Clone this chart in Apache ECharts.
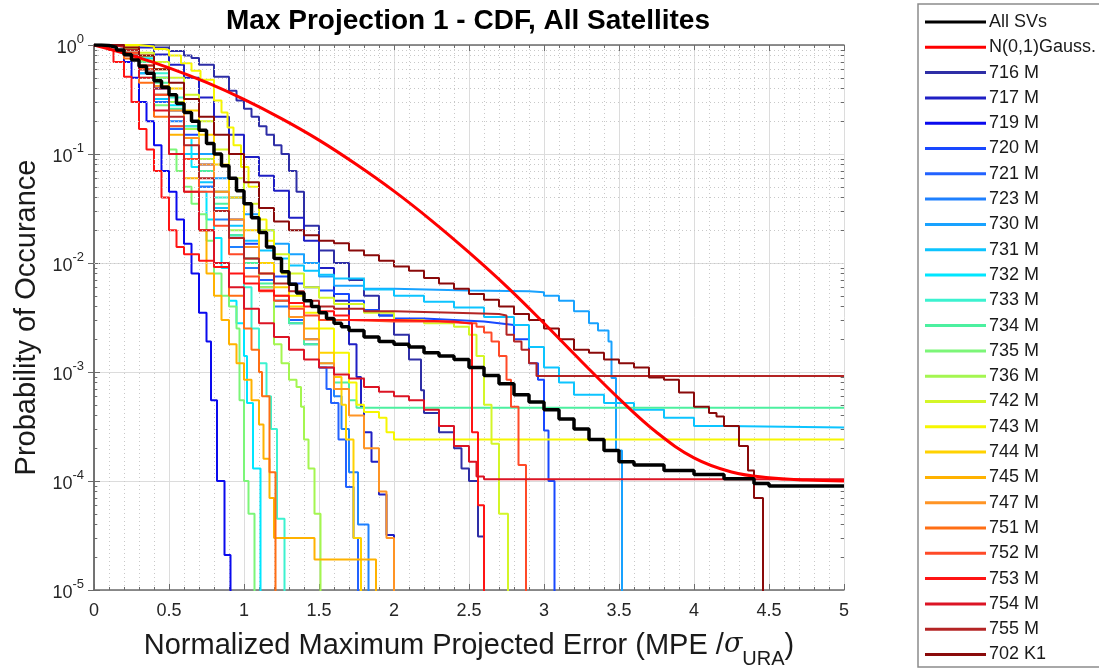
<!DOCTYPE html>
<html><head><meta charset="utf-8">
<script src="https://cdn.jsdelivr.net/npm/echarts@6/dist/echarts.min.js"></script>
<style>html,body{margin:0;padding:0;background:#fff}#c{width:1099px;height:670px}</style>
</head><body><div id="c"></div>
<script>
// ---------- DATA (x = normalized MPE, y = probability) ----------
const allSVs = [[0,1],[0.05,0.99],[0.1,0.95],[0.15,0.9],[0.2,0.82],[0.25,0.73],[0.3,0.64],[0.35,0.55],[0.4,0.47],[0.45,0.41],[0.5,0.35],[0.55,0.29],[0.6,0.24],[0.65,0.2],[0.7,0.165],[0.75,0.125],[0.8,0.1],[0.85,0.078],[0.9,0.06],[0.95,0.046],[1.0,0.035],[1.05,0.026],[1.1,0.019],[1.15,0.014],[1.2,0.011],[1.25,0.0083],[1.3,0.0064],[1.35,0.0053],[1.4,0.0045],[1.45,0.004],[1.5,0.0035],[1.55,0.0031],[1.6,0.0028],[1.65,0.0026],[1.7,0.0024],[1.8,0.0021],[1.9,0.0019],[2.0,0.0018],[2.1,0.0017],[2.2,0.0015],[2.3,0.0014],[2.4,0.0013],[2.5,0.0011],[2.6,0.00093],[2.7,0.00078],[2.8,0.00062],[2.9,0.00053],[3.0,0.00045],[3.1,0.00037],[3.2,0.0003],[3.3,0.00024],[3.4,0.00019],[3.5,0.00015],[3.6,0.00014],[3.8,0.000125],[4.0,0.000115],[4.2,0.000105],[4.4,0.000095],[4.5,0.00009],[5.0,0.00009]];
const gauss = [[0,1],[0.25,0.803],[0.5,0.617],[0.75,0.453],[1.0,0.317],[1.25,0.211],[1.5,0.134],[1.75,0.080],[2.0,0.0456],[2.25,0.0245],[2.5,0.0125],[2.75,0.0061],[3.0,0.0028],[3.25,0.00125],[3.5,0.00057],[3.75,0.00028],[4.0,0.000163],[4.25,0.000121],[4.5,0.000107],[4.75,0.000102],[5.0,0.0001]];
const sv716 = [[0,1],[0.3,1],[0.4,0.95],[0.5,0.88],[0.6,0.8],[0.65,0.76],[0.7,0.66],[0.8,0.51],[0.9,0.38],[0.95,0.31],[1.0,0.26],[1.05,0.22],[1.1,0.18],[1.15,0.15],[1.2,0.12],[1.25,0.1],[1.3,0.07],[1.35,0.045],[1.4,0.022],[1.5,0.013],[1.6,0.01],[1.7,0.007],[1.8,0.005],[1.9,0.0033],[2.0,0.0022],[2.1,0.0013],[2.18,0.00068],[2.2,0.00042],[2.3,0.00028],[2.4,0.0002],[2.45,0.00013],[2.5,0.0001],[2.56,0.000031],[2.6,0]];
const sv717 = [[0,1],[0.2,1],[0.3,0.95],[0.4,0.82],[0.5,0.66],[0.6,0.5],[0.7,0.33],[0.8,0.22],[0.9,0.15],[1.0,0.094],[1.1,0.063],[1.2,0.046],[1.3,0.026],[1.4,0.016],[1.5,0.009],[1.6,0.0045],[1.7,0.0018],[1.75,0.0009],[1.78,0.00048],[1.8,0.00028],[1.85,0.00015],[1.9,0.000075],[1.95,0.000032],[2.0,0]];
const sv719 = [[0,1],[0.1,0.97],[0.2,0.7],[0.25,0.5],[0.3,0.3],[0.35,0.2],[0.4,0.12],[0.45,0.07],[0.5,0.045],[0.55,0.025],[0.6,0.015],[0.65,0.008],[0.7,0.0035],[0.75,0.0019],[0.78,0.00055],[0.82,0.0001],[0.87,0.000021],[0.91,0]];
const sv720 = [[0,1],[0.1,0.98],[0.2,0.85],[0.3,0.6],[0.4,0.4],[0.5,0.25],[0.6,0.15],[0.7,0.08],[0.8,0.045],[0.9,0.025],[1.0,0.015],[1.1,0.01],[1.2,0.0075],[1.3,0.0065],[1.4,0.006],[1.5,0.0056],[1.6,0.0052],[1.7,0.0045],[1.8,0.0037],[1.9,0.0033],[2.0,0.0031],[2.2,0.003],[2.4,0.0029],[2.6,0.0028],[2.7,0.0027],[2.8,0.002],[2.9,0.0012],[2.96,0.00085],[3.0,0.00029],[3.03,0.0001],[3.07,0]];
const sv721 = [[0,1],[0.1,0.98],[0.2,0.8],[0.3,0.55],[0.4,0.3],[0.5,0.17],[0.6,0.09],[0.7,0.05],[0.8,0.03],[0.9,0.018],[1.0,0.011],[1.1,0.007],[1.2,0.0045],[1.3,0.003],[1.4,0.002],[1.5,0.0011],[1.55,0.0007],[1.58,0.00052],[1.63,0.00024],[1.68,0.000088],[1.73,0.00003],[1.76,0]];
const sv723 = [[0,1],[0.1,0.99],[0.2,0.85],[0.3,0.6],[0.4,0.35],[0.5,0.2],[0.6,0.1],[0.7,0.05],[0.8,0.025],[0.9,0.014],[1.0,0.009],[1.1,0.006],[1.2,0.004],[1.3,0.0028],[1.4,0.0018],[1.5,0.0011],[1.6,0.0006],[1.65,0.0003],[1.7,0.00012],[1.76,0.00004],[1.83,0]];
const sv730 = [[0,1],[0.1,0.99],[0.2,0.9],[0.3,0.7],[0.4,0.5],[0.5,0.3],[0.6,0.18],[0.7,0.1],[0.8,0.06],[0.9,0.04],[1.0,0.028],[1.1,0.02],[1.2,0.015],[1.3,0.012],[1.4,0.01],[1.5,0.0075],[1.6,0.0062],[1.8,0.0058],[2.0,0.0056],[2.5,0.0055],[2.9,0.0054],[3.0,0.005],[3.1,0.0045],[3.2,0.0036],[3.3,0.0028],[3.36,0.0024],[3.43,0.0019],[3.45,0.00088],[3.48,0.00019],[3.52,0]];
const sv731 = [[0,1],[0.1,0.97],[0.2,0.8],[0.3,0.55],[0.4,0.32],[0.5,0.18],[0.6,0.1],[0.7,0.055],[0.8,0.032],[0.9,0.022],[1.0,0.016],[1.1,0.013],[1.2,0.011],[1.3,0.0095],[1.4,0.0085],[1.5,0.0078],[1.6,0.0072],[1.8,0.0057],[2.0,0.005],[2.2,0.0044],[2.4,0.0039],[2.6,0.0032],[2.8,0.0027],[2.9,0.0017],[3.0,0.0011],[3.1,0.0008],[3.2,0.00062],[3.4,0.00052],[3.6,0.00045],[3.8,0.00038],[4.0,0.00032],[4.2,0.00031],[5.0,0.00031]];
const sv732 = [[0,1],[0.1,1],[0.2,0.9],[0.3,0.75],[0.4,0.5],[0.5,0.28],[0.6,0.14],[0.65,0.076],[0.7,0.045],[0.75,0.025],[0.8,0.017],[0.85,0.009],[0.9,0.0045],[0.95,0.0028],[1.0,0.0014],[1.02,0.00052],[1.06,0.00013],[1.11,0]];
const sv733 = [[0,1],[0.1,1],[0.2,0.92],[0.3,0.78],[0.4,0.55],[0.5,0.33],[0.6,0.18],[0.7,0.09],[0.8,0.04],[0.9,0.018],[1.0,0.006],[1.05,0.0025],[1.1,0.0012],[1.15,0.0006],[1.18,0.0003],[1.22,0.000045],[1.27,0]];
const sv734 = [[0,1],[0.1,0.99],[0.2,0.9],[0.3,0.7],[0.4,0.45],[0.5,0.26],[0.6,0.14],[0.7,0.07],[0.8,0.035],[0.9,0.018],[1.0,0.01],[1.1,0.0065],[1.2,0.0045],[1.3,0.0028],[1.4,0.0018],[1.5,0.0012],[1.6,0.0008],[1.7,0.00055],[1.75,0.00047],[5.0,0.00047]];
const sv735 = [[0,1],[0.1,0.98],[0.2,0.8],[0.3,0.5],[0.4,0.28],[0.5,0.11],[0.55,0.07],[0.6,0.05],[0.65,0.035],[0.7,0.028],[0.75,0.016],[0.8,0.008],[0.85,0.005],[0.9,0.004],[0.95,0.0025],[0.97,0.00055],[1.0,0.0001],[1.03,0.00005],[1.07,0]];
const sv736 = [[0,1],[0.1,1],[0.2,0.9],[0.3,0.72],[0.4,0.5],[0.5,0.3],[0.6,0.17],[0.7,0.09],[0.8,0.045],[0.9,0.02],[1.0,0.011],[1.1,0.006],[1.2,0.0018],[1.25,0.0012],[1.3,0.00085],[1.35,0.00073],[1.38,0.00048],[1.4,0.00024],[1.43,0.00013],[1.47,0.00005],[1.51,0]];
const sv742 = [[0,1],[0.1,1],[0.2,0.95],[0.3,0.85],[0.4,0.7],[0.5,0.5],[0.6,0.35],[0.7,0.2],[0.8,0.11],[0.9,0.06],[1.0,0.035],[1.1,0.02],[1.2,0.012],[1.3,0.008],[1.4,0.006],[1.5,0.0048],[1.6,0.0042],[1.8,0.0035],[2.0,0.003],[2.2,0.0028],[2.4,0.0026],[2.5,0.0022],[2.55,0.0014],[2.6,0.0005],[2.65,0.00022],[2.7,0.00005],[2.76,0]];
const sv743 = [[0,1],[0.2,1],[0.3,0.97],[0.4,0.92],[0.47,0.9],[0.5,0.8],[0.58,0.68],[0.65,0.58],[0.71,0.48],[0.8,0.31],[0.85,0.24],[0.89,0.175],[0.93,0.12],[0.98,0.076],[1.03,0.05],[1.1,0.025],[1.15,0.016],[1.2,0.011],[1.25,0.008],[1.3,0.005],[1.4,0.0035],[1.5,0.0025],[1.6,0.0015],[1.7,0.0008],[1.75,0.0005],[1.8,0.00043],[1.9,0.00038],[1.95,0.00028],[2.0,0.00024],[5.0,0.00024]];
const sv744 = [[0,1],[0.1,1],[0.2,0.95],[0.3,0.8],[0.4,0.6],[0.5,0.4],[0.6,0.25],[0.7,0.15],[0.8,0.08],[0.9,0.04],[1.0,0.02],[1.1,0.01],[1.2,0.006],[1.3,0.004],[1.4,0.0025],[1.5,0.0015],[1.6,0.0009],[1.65,0.0005],[1.68,0.00024],[1.73,0.00003],[1.78,0]];
const sv745 = [[0,1],[0.1,0.99],[0.2,0.85],[0.3,0.6],[0.4,0.35],[0.5,0.15],[0.6,0.06],[0.7,0.02],[0.75,0.008],[0.8,0.005],[0.85,0.003],[0.9,0.0018],[0.95,0.0012],[1.0,0.00085],[1.05,0.00055],[1.1,0.00033],[1.13,0.00016],[1.17,0.00007],[1.2,0.00003],[1.47,0.000019],[1.88,0]];
const sv747 = [[0,1],[0.1,0.98],[0.2,0.85],[0.3,0.65],[0.4,0.42],[0.5,0.25],[0.6,0.14],[0.7,0.08],[0.8,0.045],[0.9,0.025],[1.0,0.014],[1.1,0.008],[1.2,0.005],[1.3,0.0032],[1.4,0.002],[1.5,0.0012],[1.6,0.0007],[1.7,0.0004],[1.8,0.0002],[1.9,0.00008],[1.95,0.00003],[2.0,0]];
const sv751 = [[0,1],[0.1,0.97],[0.2,0.75],[0.3,0.45],[0.4,0.22],[0.5,0.1],[0.6,0.045],[0.7,0.02],[0.8,0.01],[0.9,0.005],[1.0,0.0025],[1.05,0.0016],[1.1,0.001],[1.12,0.0006],[1.17,0.00012],[1.21,0]];
const sv752 = [[0,1],[0.1,0.98],[0.2,0.85],[0.3,0.6],[0.4,0.35],[0.5,0.18],[0.6,0.09],[0.7,0.045],[0.8,0.022],[0.9,0.012],[1.0,0.0075],[1.1,0.0055],[1.2,0.0045],[1.3,0.0038],[1.4,0.0033],[1.5,0.003],[1.7,0.0029],[2.0,0.0029],[2.3,0.0028],[2.5,0.0028],[2.55,0.0026],[2.6,0.0023],[2.65,0.0019],[2.7,0.0014],[2.75,0.00085],[2.78,0.00048],[2.83,0.00014],[2.88,0]];
const sv753 = [[0,1],[0.1,0.9],[0.13,0.7],[0.2,0.51],[0.25,0.3],[0.3,0.17],[0.35,0.11],[0.4,0.07],[0.45,0.04],[0.5,0.02],[0.55,0.014],[0.6,0.012],[0.7,0.0105],[0.8,0.0092],[0.9,0.008],[1.0,0.0065],[1.1,0.0056],[1.2,0.005],[1.3,0.0043],[1.4,0.004],[1.5,0.0036],[1.6,0.0033],[1.7,0.003],[2.0,0.0029],[2.4,0.0028],[2.5,0.0028],[2.52,0.00028],[2.56,0.00006],[2.6,0]];
const sv754 = [[0,1],[0.1,0.97],[0.2,0.8],[0.3,0.5],[0.4,0.25],[0.5,0.1],[0.6,0.045],[0.7,0.02],[0.8,0.01],[0.9,0.006],[1.0,0.0038],[1.1,0.0028],[1.2,0.0021],[1.3,0.0016],[1.4,0.0013],[1.5,0.0011],[1.6,0.00095],[1.7,0.00087],[1.8,0.00073],[1.9,0.00066],[2.0,0.0006],[2.1,0.00055],[2.2,0.00045],[2.3,0.00032],[2.4,0.00021],[2.5,0.00015],[2.55,0.00011],[2.6,0.000104],[5.0,0.000104]];
const sv755 = [[0,1],[0.1,1],[0.2,0.9],[0.3,0.65],[0.4,0.4],[0.5,0.22],[0.6,0.12],[0.7,0.06],[0.8,0.03],[0.9,0.017],[1.0,0.011],[1.1,0.008],[1.2,0.0065],[1.3,0.0055],[1.4,0.0045],[1.5,0.004],[1.6,0.0038],[1.8,0.0036],[2.0,0.0035],[2.4,0.0034],[2.7,0.0033],[2.75,0.0022],[2.8,0.0019],[2.85,0.0016],[2.9,0.0012],[2.95,0.00092],[5.0,0.00092]];
const sv702 = [[0,1],[0.1,1],[0.2,0.95],[0.3,0.8],[0.4,0.6],[0.5,0.45],[0.6,0.32],[0.7,0.22],[0.8,0.15],[0.9,0.1],[1.0,0.055],[1.1,0.032],[1.2,0.024],[1.3,0.02],[1.4,0.018],[1.5,0.016],[1.6,0.0152],[1.7,0.013],[1.8,0.0118],[1.9,0.0105],[2.0,0.0093],[2.1,0.0085],[2.2,0.0073],[2.3,0.0065],[2.4,0.0058],[2.5,0.0052],[2.6,0.0046],[2.7,0.004],[2.8,0.0034],[2.9,0.003],[3.0,0.0025],[3.1,0.002],[3.2,0.0016],[3.3,0.0015],[3.4,0.0013],[3.5,0.0012],[3.6,0.0011],[3.7,0.00089],[3.8,0.00085],[3.9,0.00065],[4.0,0.00048],[4.1,0.00042],[4.15,0.00039],[4.2,0.00032],[4.3,0.00021],[4.36,0.000125],[4.4,0.00007],[4.46,0]];

const svNames = ['716 M','717 M','719 M','720 M','721 M','723 M','730 M','731 M','732 M','733 M','734 M','735 M','736 M','742 M','743 M','744 M','745 M','747 M','751 M','752 M','753 M','754 M','755 M','702 K1'];
const svSeries = [sv716,sv717,sv719,sv720,sv721,sv723,sv730,sv731,sv732,sv733,sv734,sv735,sv736,sv742,sv743,sv744,sv745,sv747,sv751,sv752,sv753,sv754,sv755,sv702];
const xTickLabels = ['0','0.5','1','1.5','2','2.5','3','3.5','4','4.5','5'];

// ---------- STYLE ----------
const svColors = ['#2e2ea6','#1f1fc4','#0a0aee','#1848ff','#2262ff','#1e80ff','#18a2ff','#0cc4ff','#00e6ff','#3cf2d0','#4cf0a0','#7cf678','#a4f650','#d4f628','#f6f600','#ffd200','#ffb200','#ff9424','#ff6e14','#ff4a28','#ff1414','#dc1424','#b42424','#8a0a0a'];
const FONT = '"Liberation Sans", Arial, sans-serif';
const chart = echarts.init(document.getElementById('c'), null, {renderer: 'canvas'});

function prep(d) { return d.map(p => [p[0], p[1] > 0 ? p[1] : 1e-9]); }

const axisCol = '#6b6b6b';
const series = [];
const minorY = [];
const minorTicks = [];
for (let e = -5; e < 0; e++) for (let k = 2; k <= 9; k++) {
  const v = k * Math.pow(10, e);
  minorY.push({yAxis: v});
  minorTicks.push([{coord: [0, v]}, {coord: [0.022, v]}]);
  minorTicks.push([{coord: [4.978, v]}, {coord: [5, v]}]);
}
series.push({
  name: '_grid', type: 'line', data: [[0, 1e-9]], symbol: 'none', silent: true, z: 1,
  lineStyle: {opacity: 0},
  markLine: {silent: true, symbol: 'none', label: {show: false}, animation: false,
    lineStyle: {type: [1, 3], color: '#c8c8c8', width: 1}, emphasis: {disabled: true}, data: minorY}
});
series.push({
  name: '_ticks', type: 'line', data: [[0, 1e-9]], symbol: 'none', silent: true, z: 8,
  lineStyle: {opacity: 0},
  markLine: {silent: true, symbol: 'none', label: {show: false}, animation: false,
    lineStyle: {type: 'solid', color: axisCol, width: 1}, emphasis: {disabled: true}, data: minorTicks}
});
svSeries.forEach((d, i) => {
  series.push({name: svNames[i], type: 'line', step: 'end', data: prep(d), symbol: 'none',
    showSymbol: false, clip: true, z: 3, lineStyle: {width: 2, color: svColors[i]}, itemStyle: {color: svColors[i]}});
});
series.push({name: 'N(0,1)Gauss.', type: 'line', smooth: 0.4, data: gauss, symbol: 'none', clip: true, z: 5,
  lineStyle: {width: 3, color: '#ff0000'}, itemStyle: {color: '#ff0000'}});
series.push({name: 'All SVs', type: 'line', step: 'end', data: prep(allSVs), symbol: 'none', clip: true, z: 6,
  lineStyle: {width: 3.5, color: '#000000'}, itemStyle: {color: '#000000'}});

const option = {
  animation: false,
  backgroundColor: '#ffffff',
  grid: {left: 94, right: 255, top: 45, bottom: 80, containLabel: false, outerBoundsMode: 'none'},
  graphic: [
    {type: 'text', x: 468, y: 21, style: {text: 'Max Projection 1 - CDF, All Satellites', font: 'bold 28px ' + FONT, fill: '#000', align: 'center', verticalAlign: 'middle'}},
    {type: 'rect', shape: {x: 918, y: 4, width: 220, height: 663}, style: {fill: 'none', stroke: '#8c8c8c', lineWidth: 1.5}, z: -1}
  ],
  legend: {
    orient: 'vertical', left: 925, top: 13, padding: 0, height: 660,
    icon: 'rect', itemWidth: 61, itemHeight: 3, itemGap: 7.3,
    data: ['All SVs', 'N(0,1)Gauss.'].concat(svNames),
    textStyle: {fontFamily: FONT, fontSize: 18, color: '#1a1a1a', lineHeight: 18, padding: [0, 0, 0, -2]},
    selectedMode: false
  },
  xAxis: [{
    type: 'value', min: 0, max: 5, interval: 0.5, position: 'bottom',
    axisLine: {show: true, lineStyle: {color: axisCol, width: 1.5}},
    axisTick: {show: true, inside: true, length: 6, lineStyle: {color: axisCol}},
    minorTick: {show: true, splitNumber: 5, length: 3, lineStyle: {color: axisCol}},
    axisLabel: {fontFamily: FONT, fontSize: 18, color: '#262626', margin: 12,
      formatter: v => xTickLabels[Math.round(v * 2)]},
    splitLine: {show: true, lineStyle: {color: '#dcdcdc', width: 1}},
    minorSplitLine: {show: true, lineStyle: {color: '#c8c8c8', type: [1, 3], width: 1}},
    name: '{n|Normalized Maximum Projected Error (MPE /}{i|σ}{u|URA}{n|)}',
    nameLocation: 'middle', nameGap: 41,
    nameTextStyle: {rich: {
      n: {fontFamily: FONT, fontSize: 29, color: '#1a1a1a', lineHeight: 38, verticalAlign: 'top'},
      i: {fontFamily: 'DejaVu Serif, serif', fontStyle: 'italic', fontSize: 27, color: '#1a1a1a', lineHeight: 38, verticalAlign: 'top'},
      u: {fontFamily: FONT, fontSize: 20, color: '#1a1a1a', lineHeight: 38, verticalAlign: 'bottom'}
    }}
  }, {
    type: 'value', min: 0, max: 5, interval: 0.5, position: 'top',
    axisLine: {show: true, lineStyle: {color: axisCol, width: 1.5}},
    axisTick: {show: true, inside: true, length: 6, lineStyle: {color: axisCol}},
    minorTick: {show: true, splitNumber: 5, length: 3, lineStyle: {color: axisCol}},
    axisLabel: {show: false}, splitLine: {show: false}
  }],
  yAxis: [{
    type: 'log', logBase: 10, min: 1e-5, max: 1,
    axisLine: {show: true, lineStyle: {color: axisCol, width: 1.5}},
    axisTick: {show: true, inside: true, length: 6, lineStyle: {color: axisCol}},
    axisLabel: {margin: 10, formatter: v => '{b|10}{s|' + Math.round(Math.log10(v)) + '}',
      rich: {
        b: {fontFamily: FONT, fontSize: 18, color: '#262626', lineHeight: 24, verticalAlign: 'bottom'},
        s: {fontFamily: FONT, fontSize: 13, color: '#262626', lineHeight: 24, verticalAlign: 'top'}
      }},
    splitLine: {show: true, lineStyle: {color: '#dcdcdc', width: 1}},
    name: 'Probability of Occurance', nameLocation: 'middle', nameGap: 52,
    nameTextStyle: {fontFamily: FONT, fontSize: 29, color: '#1a1a1a'}
  }, {
    type: 'log', logBase: 10, min: 1e-5, max: 1, position: 'right',
    axisLine: {show: true, lineStyle: {color: axisCol, width: 1.5}},
    axisTick: {show: true, inside: true, length: 6, lineStyle: {color: axisCol}},
    axisLabel: {show: false}, splitLine: {show: false}
  }],
  series: series
};
chart.setOption(option);
</script></body></html>
